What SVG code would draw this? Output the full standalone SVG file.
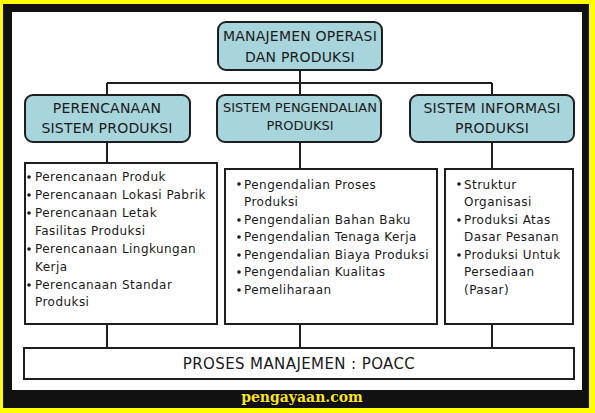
<svg xmlns="http://www.w3.org/2000/svg" width="595" height="413" viewBox="0 0 595 413">
<style>
.node{fill:#a8d5dc;stroke:#1e1e1e;stroke-width:2}
.box{fill:#ffffff;stroke:#1e1e1e;stroke-width:2}
.hd{font-family:"DejaVu Sans",Verdana,sans-serif;font-size:14px;fill:#1a1a1a;text-anchor:middle;letter-spacing:0.2px}
.hds{font-family:"DejaVu Sans",Verdana,sans-serif;font-size:13px;fill:#1a1a1a;text-anchor:middle}
.bd{font-family:"DejaVu Sans",Verdana,sans-serif;font-size:12px;fill:#1a1a1a;letter-spacing:0.45px}
.bul{fill:#1a1a1a}
.conn line{stroke:#1e1e1e;stroke-width:2}
</style>
<rect x="0" y="0" width="595" height="413" fill="#ffff00"/>
<rect x="3" y="4" width="586" height="404" fill="#111111"/>
<rect x="12" y="12" width="570" height="378" fill="#ffffff"/>
<g class="conn" id="connectors">
<line x1="300" y1="70" x2="300" y2="83"/>
<line x1="107" y1="83" x2="492" y2="83"/>
<line x1="107" y1="83" x2="107" y2="95"/>
<line x1="300" y1="83" x2="300" y2="95"/>
<line x1="492" y1="83" x2="492" y2="95"/>
<line x1="107" y1="142" x2="107" y2="163"/>
<line x1="300" y1="142" x2="300" y2="169"/>
<line x1="492" y1="142" x2="492" y2="169"/>
<line x1="107" y1="324" x2="107" y2="348"/>
<line x1="300" y1="324" x2="300" y2="348"/>
<line x1="492" y1="324" x2="492" y2="348"/>
</g>
<g id="top">
<rect class="node" x="218" y="22" width="164" height="48" rx="8"/>
<text class="hd" x="300" y="41">MANAJEMEN OPERASI</text>
<text class="hd" x="300" y="62">DAN PRODUKSI</text>
</g>
<g id="perencanaan">
<rect class="node" x="25" y="95" width="165" height="47" rx="8"/>
<text class="hd" x="107" y="113">PERENCANAAN</text>
<text class="hd" x="107" y="133">SISTEM PRODUKSI</text>
</g>
<g id="pengendalian">
<rect class="node" x="217" y="95" width="164" height="47" rx="8"/>
<text class="hds" x="300" y="112">SISTEM PENGENDALIAN</text>
<text class="hds" x="300" y="130">PRODUKSI</text>
</g>
<g id="informasi">
<rect class="node" x="410" y="95" width="164" height="47" rx="8"/>
<text class="hd" x="492" y="113">SISTEM INFORMASI</text>
<text class="hd" x="492" y="133">PRODUKSI</text>
</g>
<g id="list-perencanaan">
<rect class="box" x="25" y="163" width="192" height="161"/>
<g class="bul">
<circle cx="29" cy="177" r="1.8"/><circle cx="29" cy="195" r="1.8"/><circle cx="29" cy="213" r="1.8"/><circle cx="29" cy="249" r="1.8"/><circle cx="29" cy="285" r="1.8"/>
</g>
<text class="bd" x="35" y="181">Perencanaan Produk</text>
<text class="bd" x="35" y="199">Perencanaan Lokasi Pabrik</text>
<text class="bd" x="35" y="217">Perencanaan Letak</text>
<text class="bd" x="35" y="235">Fasilitas Produksi</text>
<text class="bd" x="35" y="253">Perencanaan Lingkungan</text>
<text class="bd" x="35" y="271">Kerja</text>
<text class="bd" x="35" y="289">Perencanaan Standar</text>
<text class="bd" x="35" y="306">Produksi</text>
</g>
<g id="list-pengendalian">
<rect class="box" x="225" y="169" width="212" height="155"/>
<g class="bul">
<circle cx="239" cy="184" r="1.8"/><circle cx="239" cy="220" r="1.8"/><circle cx="239" cy="237" r="1.8"/><circle cx="239" cy="255" r="1.8"/><circle cx="239" cy="272" r="1.8"/><circle cx="239" cy="290" r="1.8"/>
</g>
<text class="bd" x="244" y="189">Pengendalian Proses</text>
<text class="bd" x="244" y="206">Produksi</text>
<text class="bd" x="244" y="224">Pengendalian Bahan Baku</text>
<text class="bd" x="244" y="241">Pengendalian Tenaga Kerja</text>
<text class="bd" x="244" y="259">Pengendalian Biaya Produksi</text>
<text class="bd" x="244" y="276">Pengendalian Kualitas</text>
<text class="bd" x="244" y="294">Pemeliharaan</text>
</g>
<g id="list-informasi">
<rect class="box" x="445" y="169" width="128" height="155"/>
<g class="bul">
<circle cx="459" cy="184" r="1.8"/><circle cx="459" cy="220" r="1.8"/><circle cx="459" cy="255" r="1.8"/>
</g>
<text class="bd" x="464" y="189">Struktur</text>
<text class="bd" x="464" y="206">Organisasi</text>
<text class="bd" x="464" y="224">Produksi Atas</text>
<text class="bd" x="464" y="241">Dasar Pesanan</text>
<text class="bd" x="464" y="259">Produksi Untuk</text>
<text class="bd" x="464" y="276">Persediaan</text>
<text class="bd" x="464" y="294">(Pasar)</text>
</g>
<g id="poacc">
<rect class="box" x="24" y="348" width="550" height="31"/>
<text class="hd" x="299" y="369" style="font-size:15px;letter-spacing:0.4px">PROSES MANAJEMEN : POACC</text>
</g>
<text x="302" y="402" text-anchor="middle" style="font-family:'DejaVu Serif',serif;font-weight:bold;font-size:14px;fill:#ffe800;stroke:#000;stroke-width:2;paint-order:stroke">pengayaan.com</text>
</svg>
